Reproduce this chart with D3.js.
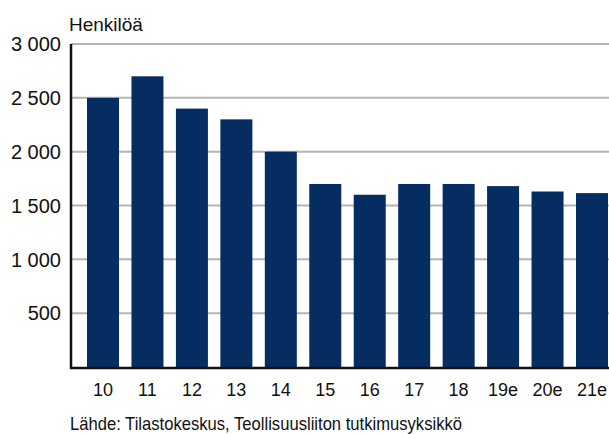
<!DOCTYPE html>
<html>
<head>
<meta charset="utf-8">
<script src="https://cdn.jsdelivr.net/npm/d3@7"></script>
<style>
  body { margin: 0; background: #fff; }
  svg { display: block; }
</style>
</head>
<body>
<div id="chart"></div>
<script>
// Data
const years = ["10", "11", "12", "13", "14", "15", "16", "17", "18", "19e", "20e", "21e"];
const persons = [2500, 2700, 2400, 2300, 2000, 1700, 1600, 1700, 1700, 1680, 1630, 1615];
const yTicks = [500, 1000, 1500, 2000, 2500, 3000];
const unitLabel = "Henkilöä";
const sourceText = "Lähde: Tilastokeskus, Teollisuusliiton tutkimusyksikkö";

const W = 609, H = 434;
const FONT = "'Liberation Sans', Arial, sans-serif";
const barColor = "#052d62";

var svg = d3.select("#chart").append("svg")
    .attr("width", W)
    .attr("height", H)
    .attr("font-family", FONT);

const x = d3.scaleBand()
    .domain(years)
    .range([71, 624])
    .paddingInner(0.28)
    .paddingOuter(0.36);

const y = d3.scaleLinear()
    .domain([0, 3000])
    .range([367, 44]);

const fmt = v => d3.format(",")(v).replace(",", " ");

// gridlines
svg.append("g")
  .selectAll("line")
  .data(yTicks)
  .join("line")
    .attr("x1", 71)
    .attr("x2", W)
    .attr("y1", d => y(d))
    .attr("y2", d => y(d))
    .attr("stroke", "#b4b4b4")
    .attr("stroke-width", 2);

// bars
svg.append("g")
  .selectAll("rect")
  .data(persons)
  .join("rect")
    .attr("x", (d, i) => x(years[i]))
    .attr("y", d => y(d))
    .attr("width", x.bandwidth())
    .attr("height", d => y(0) - y(d))
    .attr("fill", barColor);

// axes lines
svg.append("line")
    .attr("x1", 71).attr("x2", 71)
    .attr("y1", y(3000)).attr("y2", y(0) + 2)
    .attr("stroke", "#111").attr("stroke-width", 2.5);
svg.append("line")
    .attr("x1", 70).attr("x2", W)
    .attr("y1", y(0) + 1).attr("y2", y(0) + 1)
    .attr("stroke", "#111").attr("stroke-width", 2.5);

// y tick labels
svg.append("g")
  .selectAll("text")
  .data(yTicks)
  .join("text")
    .attr("x", 61)
    .attr("y", d => y(d))
    .attr("dy", "0.36em")
    .attr("text-anchor", "end")
    .attr("font-size", 20)
    .attr("fill", "#111")
    .text(fmt);

// x labels
svg.append("g")
  .selectAll("text")
  .data(years)
  .join("text")
    .attr("x", d => x(d) + x.bandwidth() / 2)
    .attr("y", 396)
    .attr("text-anchor", "middle")
    .attr("font-size", 18)
    .attr("fill", "#111")
    .text(d => d);

// unit label
svg.append("text")
    .attr("x", 69)
    .attr("y", 31)
    .attr("font-size", 19)
    .attr("fill", "#111")
    .text(unitLabel);

// source (narrow in the original)
svg.append("text")
    .attr("x", 70)
    .attr("y", 430)
    .attr("font-size", 19)
    .attr("textLength", 392)
    .attr("lengthAdjust", "spacingAndGlyphs")
    .attr("fill", "#111")
    .text(sourceText);
</script>
</body>
</html>
